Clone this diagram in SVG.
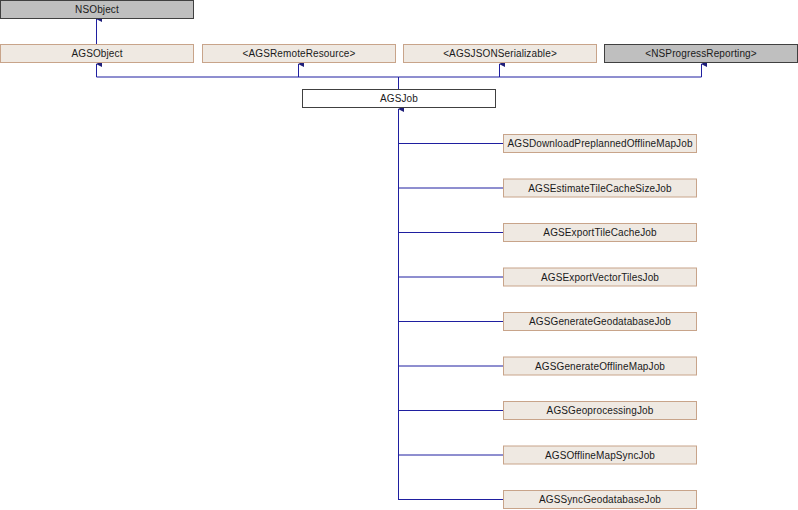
<svg xmlns="http://www.w3.org/2000/svg" width="798" height="510" viewBox="0 0 798 510">
<style>
text{font-family:"Liberation Sans",Arial,sans-serif;font-size:10px;letter-spacing:0.12px;fill:#1a1a1a;text-anchor:middle;dominant-baseline:central}
.ext{fill:#bfbfbf;stroke:#404040;stroke-width:1}
.doc{fill:#efe9e2;stroke:#c8a48a;stroke-width:1}
.main{fill:#fff;stroke:#404040;stroke-width:1}
.edge{fill:none;stroke:#1f1fa0;stroke-width:1}
</style>
<defs>
<marker id="ah" markerWidth="6" markerHeight="6" refX="3" refY="0.5" orient="auto" markerUnits="userSpaceOnUse" viewBox="0 0 6 6">
<path d="M0,6 L3,0 L6,6 Z" fill="#1f1f7a"/>
</marker>
</defs>
<rect width="798" height="510" fill="#fff"/>
<g id="connectors">
<path class="edge" d="M96.5,44 V19" marker-end="url(#ah)"/>
<path class="edge" d="M398.5,89 V77 H96.5 V64" marker-end="url(#ah)"/>
<path class="edge" d="M298.5,77 V64" marker-end="url(#ah)"/>
<path class="edge" d="M398.5,77 H499.5 V64" marker-end="url(#ah)"/>
<path class="edge" d="M499.5,77 H701.5 V64" marker-end="url(#ah)"/>
<path class="edge" d="M398.5,500 V109" marker-end="url(#ah)"/>
<path class="edge" d="M398.5,143.5 H503 M398.5,188 H503 M398.5,232.5 H503 M398.5,277 H503 M398.5,321.5 H503 M398.5,366 H503 M398.5,410.5 H503 M398.5,455 H503 M398.5,499.5 H503"/>
</g>
<g id="NSObject"><rect class="ext" x="0.5" y="0.5" width="193" height="18"/><text x="97" y="9.5">NSObject</text></g>
<g id="AGSObject"><rect class="doc" x="0.5" y="44.5" width="193" height="18"/><text x="97" y="53.5">AGSObject</text></g>
<g id="AGSRemoteResource"><rect class="doc" x="202.5" y="44.5" width="193" height="18"/><text x="299" y="53.5">&lt;AGSRemoteResource&gt;</text></g>
<g id="AGSJSONSerializable"><rect class="doc" x="403.5" y="44.5" width="193" height="18"/><text x="500" y="53.5">&lt;AGSJSONSerializable&gt;</text></g>
<g id="NSProgressReporting"><rect class="ext" x="604.5" y="44.5" width="193" height="18"/><text x="701" y="53.5">&lt;NSProgressReporting&gt;</text></g>
<g id="AGSJob"><rect class="main" x="302.5" y="89.5" width="193" height="18"/><text x="399" y="98.5">AGSJob</text></g>
<g id="AGSDownloadPreplannedOfflineMapJob"><rect class="doc" x="503.5" y="134.5" width="193" height="18"/><text x="600" y="143.5">AGSDownloadPreplannedOfflineMapJob</text></g>
<g id="AGSEstimateTileCacheSizeJob"><rect class="doc" x="503.5" y="179" width="193" height="18"/><text x="600" y="188">AGSEstimateTileCacheSizeJob</text></g>
<g id="AGSExportTileCacheJob"><rect class="doc" x="503.5" y="223.5" width="193" height="18"/><text x="600" y="232.5">AGSExportTileCacheJob</text></g>
<g id="AGSExportVectorTilesJob"><rect class="doc" x="503.5" y="268" width="193" height="18"/><text x="600" y="277">AGSExportVectorTilesJob</text></g>
<g id="AGSGenerateGeodatabaseJob"><rect class="doc" x="503.5" y="312.5" width="193" height="18"/><text x="600" y="321.5">AGSGenerateGeodatabaseJob</text></g>
<g id="AGSGenerateOfflineMapJob"><rect class="doc" x="503.5" y="357" width="193" height="18"/><text x="600" y="366">AGSGenerateOfflineMapJob</text></g>
<g id="AGSGeoprocessingJob"><rect class="doc" x="503.5" y="401.5" width="193" height="18"/><text x="600" y="410.5">AGSGeoprocessingJob</text></g>
<g id="AGSOfflineMapSyncJob"><rect class="doc" x="503.5" y="446" width="193" height="18"/><text x="600" y="455">AGSOfflineMapSyncJob</text></g>
<g id="AGSSyncGeodatabaseJob"><rect class="doc" x="503.5" y="490.5" width="193" height="18"/><text x="600" y="499.5">AGSSyncGeodatabaseJob</text></g>
</svg>
